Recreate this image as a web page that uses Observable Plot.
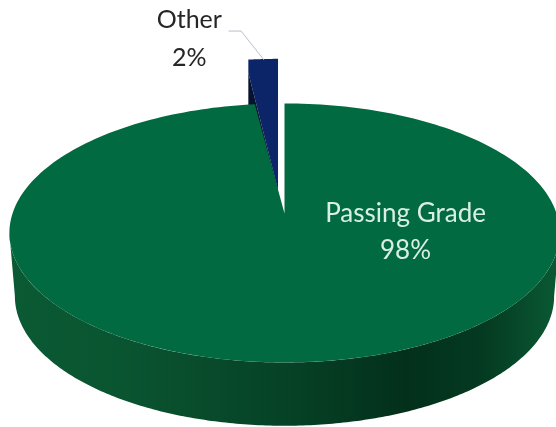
<!DOCTYPE html>
<html>
<head>
<meta charset="utf-8">
<style>html,body{margin:0;padding:0;background:#fff}svg{display:block}</style>
<script src="https://cdn.jsdelivr.net/npm/d3@7"></script>
<script src="https://cdn.jsdelivr.net/npm/@observablehq/plot@0.6"></script>
</head>
<body>
<script>
const categories = ["Passing Grade", "Other"];
const shares = [98, 2];

// Camera model of the tilted disc, in unit-disc coordinates
const persp = 0.15, rimDepth = 0.5, rimShrink = 0.98;
const lift = {dx: -0.022, dy: -0.348};
const innerEdge = {lipY: 0.103, apexY: -0.18};
const arcs = d3.pie().sort(null).value(d => d)(shares);
const project = a => ({
  x: Math.sin(a) / (1 + persp * Math.cos(a)),
  y: -Math.cos(a) / (1 + persp * Math.cos(a))
});
const sample = (a0, a1, n = 240) => d3.range(n + 1).map(i => project(a0 + (a1 - a0) * i / n));

// Top of the large slice
const bigTop = [{x: 0, y: 0}, ...sample(arcs[0].startAngle, arcs[0].endAngle)];

// Rim: front arc of the disc and the same arc pushed down
const wide = Math.acos(-persp);
const rimTop = sample(wide, 2 * Math.PI - wide);
const rimBottom = rimTop.map(p => ({x: p.x * rimShrink, y: p.y + rimDepth})).reverse();
const rim = [...rimTop, ...rimBottom];

// Pulled-out small slice
const smallArc = sample(arcs[1].startAngle, arcs[1].endAngle, 20)
  .map(p => ({x: p.x + lift.dx, y: p.y + lift.dy}));
const aL = smallArc[0], aR = smallArc[smallArc.length - 1];
const edgeAt = x => {
  const t = (x - aL.x) / (aR.x - aL.x);
  return aL.y + innerEdge.lipY + t * (innerEdge.apexY - aL.y - innerEdge.lipY);
};
const smallTop = smallArc.map(p => ({x: p.x, y1: p.y, y2: edgeAt(p.x)}));
const smallFace = smallArc.map(p => ({x: p.x, y1: edgeAt(p.x), y2: edgeAt(p.x) + rimDepth}));

// Labels, placed relative to the disc
const bigLabel = {x: 0.445, y: 0.0, gap: 0.29};
const smallLabel = {x: -0.35, y: -1.525, gap: 0.3};
const mid = smallArc[10];
const leader = [
  {x: mid.x, y: mid.y},
  {x: mid.x - 0.083, y: mid.y - 0.225},
  {x: mid.x - 0.128, y: mid.y - 0.225}
];

const rimGradient = () => {
  const defs = d3.create("svg:defs");
  const g = defs.append("linearGradient").attr("id", "rimFill");
  [[0, "#0a5a34"], [0.2, "#0a5531"], [0.5, "#064226"], [0.72, "#03301b"], [0.86, "#043a21"], [1, "#0a5a34"]]
    .forEach(([o, c]) => g.append("stop").attr("offset", o).attr("stop-color", c));
  return defs.node();
};

const font = "Lato, Carlito, sans-serif";
const chart = Plot.plot({
  width: 556, height: 427,
  margin: 0,
  style: {filter: "blur(0.4px)"},
  x: {domain: [-1, 1], range: [12, 556], axis: null},
  y: {domain: [-1, 1], range: [86.4, 339.6], axis: null},
  marks: [
    rimGradient,
    Plot.areaY(smallTop, {x: "x", y1: "y1", y2: "y2", fill: "#0b2568"}),
    Plot.areaY(smallFace, {x: "x", y1: "y1", y2: "y2", fill: "#06122f"}),
    Plot.line(rim, {x: "x", y: "y", fill: "url(#rimFill)", stroke: null}),
    Plot.line(bigTop, {x: "x", y: "y", fill: "#016a40", stroke: null}),
    Plot.line(leader, {x: "x", y: "y", stroke: "#b9c0cb", strokeWidth: 1}),
    Plot.text([categories[1], shares[1] + "%"], {
      x: smallLabel.x,
      y: (d, i) => smallLabel.y + i * smallLabel.gap,
      text: d => d, fill: "#262626", fontSize: 25, fontFamily: font
    }),
    Plot.text([categories[0], shares[0] + "%"], {
      x: bigLabel.x,
      y: (d, i) => bigLabel.y + i * bigLabel.gap,
      text: d => d, fill: "#d9efe6", fontSize: 26, fontFamily: font
    })
  ]
});
document.body.appendChild(chart);
</script>
</body>
</html>
